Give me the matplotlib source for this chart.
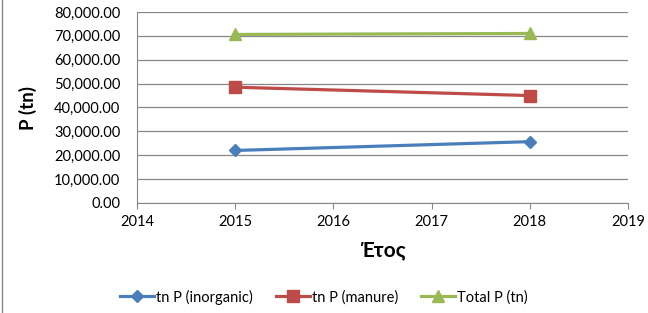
import matplotlib.pyplot as plt
from matplotlib.ticker import FuncFormatter
from matplotlib.lines import Line2D

plt.rcParams['font.family'] = ['Lato', 'DejaVu Sans']

# data
years = [2015, 2018]
inorganic = [22000, 25700]
manure = [48500, 45000]
total = [70600, 71000]

series_names = ['tn P (inorganic)', 'tn P (manure)', 'Total P (tn)']
colors = ['#4A7EBB', '#BE4B48', '#98B954']
markers = ['D', 's', '^']
msizes = [6.5, 9, 8]

fig = plt.figure(figsize=(6.48, 3.13), dpi=100)
ax = fig.add_axes([137 / 648, 1 - 203 / 313, (628 - 137) / 648, (203 - 12) / 313])

for vals, name, c, m, ms in zip([inorganic, manure, total], series_names, colors, markers, msizes):
    ax.plot(years, vals, color=c, lw=2.3, marker=m, markersize=ms, label=name, zorder=3)

ax.set_xlim(2014, 2019)
ax.set_ylim(0, 80000)
ax.set_xticks(range(2014, 2020))
ax.set_yticks(range(0, 80001, 10000))
ax.yaxis.set_major_formatter(FuncFormatter(lambda v, p: f'{v:,.2f}'))
ax.grid(axis='y', color='#878787', lw=0.9)
ax.set_axisbelow(True)

for s in ['top', 'right']:
    ax.spines[s].set_visible(False)
ax.spines['left'].set_color('#878787')
ax.spines['bottom'].set_color('#878787')
ax.tick_params(axis='x', length=4, color='#878787', labelsize=10.5, pad=5)
ax.tick_params(axis='y', length=0, labelsize=10.5, pad=12)

ax.set_ylabel('P (tn)', fontsize=13.5, fontweight='bold', labelpad=12)
ax.set_xlabel('Έτος', fontsize=15, fontweight='bold', labelpad=8)

handles = [Line2D([], [], color=c, lw=2.3, marker=m, markersize=ms)
           for c, m, ms in zip(colors, markers, msizes)]
fig.legend(handles, series_names, loc='center', bbox_to_anchor=(0.5, 1 - 297 / 313),
           ncol=3, frameon=False, fontsize=10.5, handlelength=2.3, handletextpad=0.15,
           columnspacing=1.6)

fig.add_artist(Line2D([2 / 648, 2 / 648], [0, 1], color='#878787', lw=1))

fig.savefig('out.png', dpi=100)
